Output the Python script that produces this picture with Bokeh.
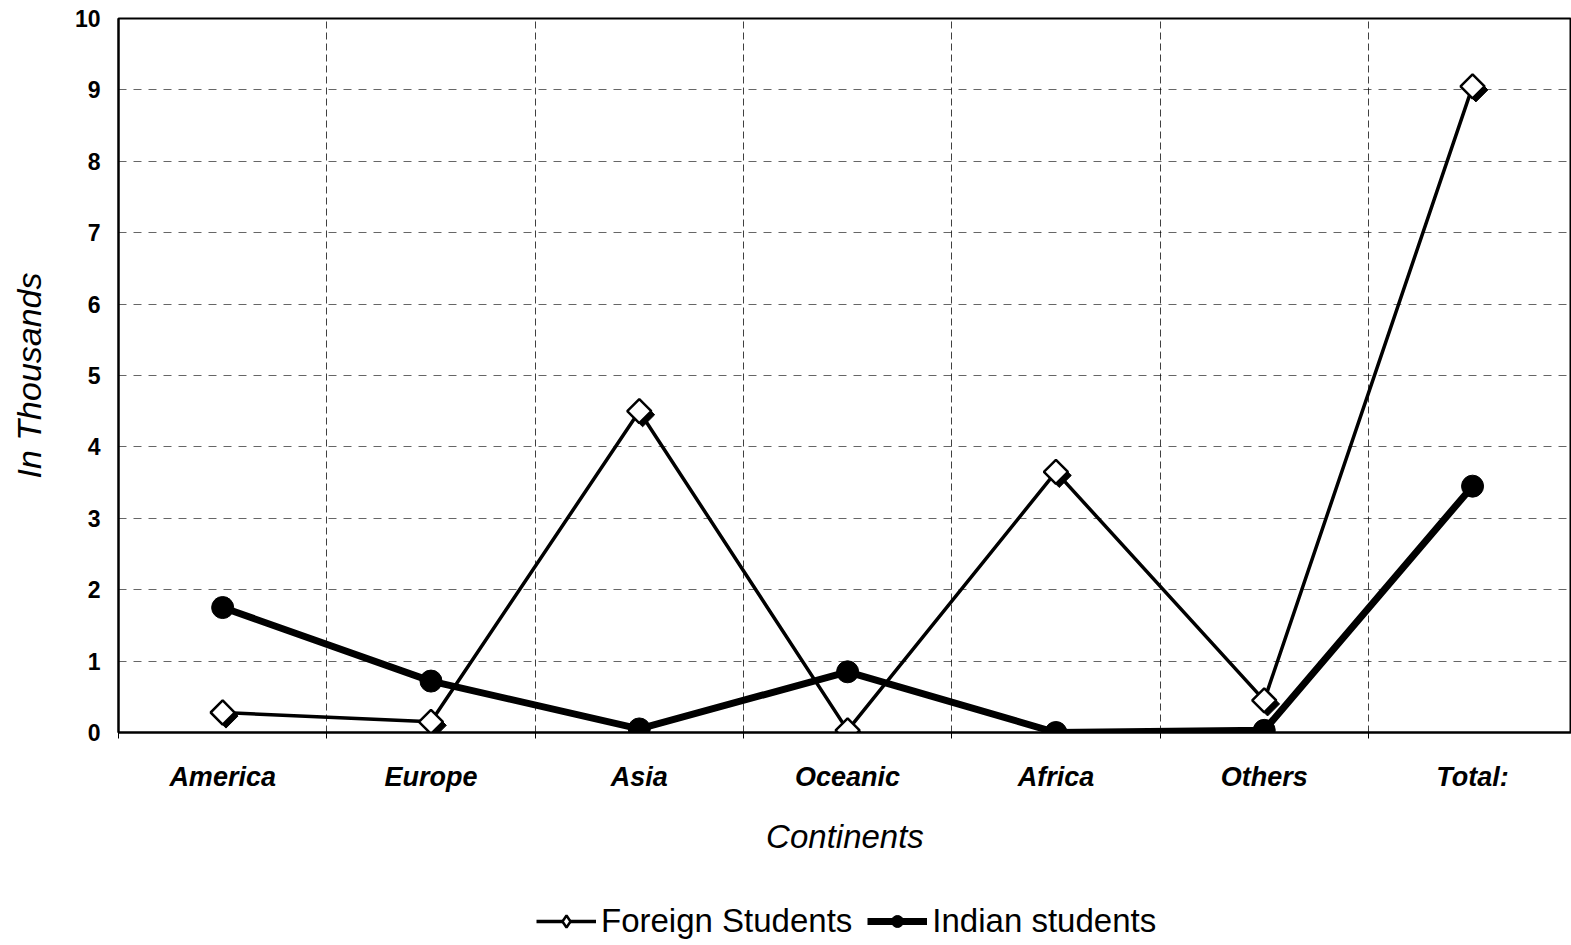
from bokeh.plotting import figure
from bokeh.layouts import column
from bokeh.models import FixedTicker, Legend, LegendItem, ColumnDataSource
from bokeh.transform import dodge
from bokeh.embed import file_html
from bokeh.resources import INLINE

categories = ["America", "Europe", "Asia", "Oceanic", "Africa", "Others", "Total:"]
foreign_students = [0.28, 0.15, 4.5, 0.03, 3.65, 0.45, 9.05]
indian_students = [1.75, 0.72, 0.05, 0.85, 0.0, 0.03, 3.45]
y_ticks = list(range(0, 11))
series_labels = ["Foreign Students", "Indian students"]

xs = list(range(len(categories)))
bounds = [i - 0.5 for i in range(len(categories) + 1)]
src = ColumnDataSource(dict(x=xs, foreign=foreign_students, indian=indian_students))

FONT = "Liberation Sans"

p = figure(width=1571, height=872, x_range=(-0.5, 6.475), y_range=(0, 10),
           output_backend="svg", toolbar_location=None,
           min_border_left=118, min_border_top=18, min_border_right=0,
           min_border_bottom=140)
p.background_fill_color = "white"
p.border_fill_color = "white"
p.outline_line_color = "black"
p.outline_line_width = 2

# axes
p.xaxis.ticker = FixedTicker(ticks=xs, minor_ticks=bounds)
p.xaxis.major_label_overrides = {i: c for i, c in enumerate(categories)}
p.xaxis.major_tick_out = 0
p.xaxis.major_tick_in = 0
p.xaxis.minor_tick_out = 6
p.xaxis.minor_tick_in = 0
p.xaxis.minor_tick_line_color = "black"
p.xaxis.axis_line_color = "black"
p.xaxis.axis_line_width = 2
p.xaxis.major_label_text_font = FONT
p.xaxis.major_label_text_font_style = "bold italic"
p.xaxis.major_label_text_font_size = "27px"
p.xaxis.major_label_text_color = "black"
p.xaxis.major_label_standoff = 23
p.xaxis.axis_label = "Continents"
p.xaxis.axis_label_text_font = FONT
p.xaxis.axis_label_text_font_style = "italic"
p.xaxis.axis_label_text_font_size = "33px"
p.xaxis.axis_label_text_color = "black"
p.xaxis.axis_label_standoff = 23

p.yaxis.ticker = FixedTicker(ticks=y_ticks)
p.yaxis.major_tick_out = 0
p.yaxis.major_tick_in = 0
p.yaxis.minor_tick_line_color = None
p.yaxis.axis_line_color = "black"
p.yaxis.axis_line_width = 2
p.yaxis.major_label_text_font = FONT
p.yaxis.major_label_text_font_style = "bold"
p.yaxis.major_label_text_font_size = "23px"
p.yaxis.major_label_text_color = "black"
p.yaxis.major_label_standoff = 18
p.yaxis.axis_label = "In Thousands"
p.yaxis.axis_label_text_font = FONT
p.yaxis.axis_label_text_font_style = "italic"
p.yaxis.axis_label_text_font_size = "34px"
p.yaxis.axis_label_text_color = "black"
p.yaxis.axis_label_standoff = 24

# grids
p.xgrid.ticker = FixedTicker(ticks=bounds)
p.xgrid.grid_line_color = "black"
p.xgrid.grid_line_alpha = 0.75
p.xgrid.grid_line_dash = "7 4"
p.xgrid.grid_line_width = 1
p.ygrid.grid_line_color = "black"
p.ygrid.grid_line_alpha = 0.6
p.ygrid.grid_line_dash = "8 7"
p.ygrid.grid_line_width = 1

# series
p.line("x", "indian", source=src, line_color="black", line_width=7)
p.scatter("x", "indian", source=src, marker="circle", size=22,
          fill_color="black", line_color="black")
p.line("x", "foreign", source=src, line_color="black", line_width=3.5)
# small dark shadow under the diamonds, as in the scanned original
p.scatter(dodge("x", 0.016), dodge("foreign", -0.05), source=src, marker="square",
          angle=0.785, size=17, fill_color="black", line_color="black")
p.scatter("x", "foreign", source=src, marker="square", angle=0.785, size=17,
          fill_color="white", line_color="black", line_width=2.5)

# legend strip below the chart
q = figure(width=1571, height=73, x_range=(0, 1), y_range=(0, 1),
           output_backend="svg", toolbar_location=None,
           min_border_left=118, min_border_top=0, min_border_right=0,
           min_border_bottom=0)
q.axis.visible = False
q.grid.visible = False
q.outline_line_color = None
q.background_fill_color = "white"
q.border_fill_color = "white"
lf = q.line([-5, -4], [-5, -4], line_color="black", line_width=3.5)
mf = q.scatter([-5], [-5], marker="diamond", size=22,
               fill_color="white", line_color="black", line_width=2.5)
li = q.line([-5, -4], [-5, -4], line_color="black", line_width=7)
mi = q.scatter([-5], [-5], marker="circle", size=16,
               fill_color="black", line_color="black")

legend = Legend(items=[
    LegendItem(label=series_labels[0], renderers=[lf, mf]),
    LegendItem(label=series_labels[1], renderers=[li, mi]),
], orientation="horizontal", location=(418, 5))
legend.label_text_font = FONT
legend.label_text_font_size = "33px"
legend.label_text_color = "black"
legend.border_line_color = None
legend.background_fill_alpha = 0
legend.glyph_width = 60
legend.glyph_height = 30
legend.label_standoff = 5
legend.spacing = 15
legend.margin = 0
legend.padding = 4
q.add_layout(legend, "center")

layout = column(p, q, spacing=0)
open("out.html", "w").write(file_html(layout, INLINE))
